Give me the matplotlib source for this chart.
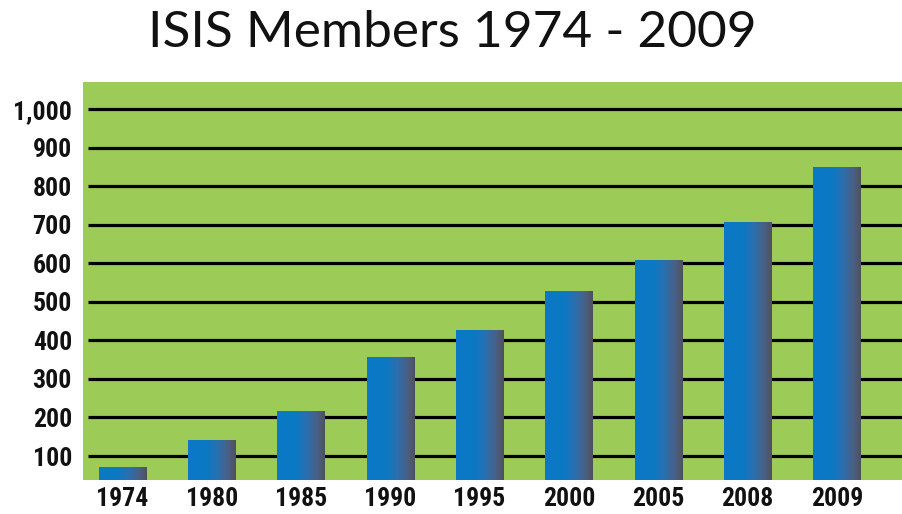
import numpy as np
import matplotlib
matplotlib.use("Agg")
import matplotlib.pyplot as plt
from matplotlib.colors import LinearSegmentedColormap
from matplotlib import font_manager

years = ["1974", "1980", "1985", "1990", "1995", "2000", "2005", "2008", "2009"]
members = [70, 140, 215, 355, 425, 527, 607, 707, 850]
yticks = [100, 200, 300, 400, 500, 600, 700, 800, 900, 1000]
ytick_labels = ["100", "200", "300", "400", "500", "600", "700", "800", "900", "1,000"]
title = "ISIS Members 1974 - 2009"

names = {f.name for f in font_manager.fontManager.ttflist}
cond = None
for cand in ["Liberation Sans Narrow", "DejaVu Sans Condensed", "Roboto Condensed", "Open Sans Condensed"]:
    if cand in names:
        cond = cand
        break

fig = plt.figure(figsize=(9.03, 5.14), dpi=100)
ax = fig.add_axes([83/903, 1 - 480/514, 1 - 83/903, (480 - 82)/514])
ax.set_facecolor("#9dcb58")

x = np.arange(len(years))
ymin, ymax = 37.7, 1071

ax.hlines(yticks, -0.38, 8.74, colors="black", linewidth=2.3, zorder=1)

cmap = LinearSegmentedColormap.from_list(
    "bargrad", [(0.0, "#0a79c6"), (0.4, "#0c78c3"), (0.62, "#2a70b0"),
                (0.85, "#4b5f84"), (1.0, "#50505c")])
grad = np.linspace(0, 1, 256).reshape(1, -1)

bars = ax.bar(x, members, width=0.53, bottom=0, color="none", edgecolor="none", zorder=2)
for b in bars:
    x0, y0 = b.get_x(), b.get_y()
    w, h = b.get_width(), b.get_height()
    ax.imshow(grad, cmap=cmap, aspect="auto",
              extent=[x0, x0 + w, max(y0, ymin), y0 + h],
              zorder=3, interpolation="bilinear")

ax.set_xlim(-0.44, 8.74)
ax.set_ylim(ymin, ymax)

for s in ax.spines.values():
    s.set_visible(False)

if cond is not None:
    tickfont = dict(family=[cond, "DejaVu Sans"], weight="bold", size=18.5)
else:
    tickfont = dict(family=["DejaVu Sans"], stretch="condensed", weight="bold", size=17)
ax.set_yticks(yticks)
ax.set_yticklabels(ytick_labels, **tickfont)
ax.set_xticks(x)
ax.set_xticklabels(years, **tickfont)
ax.tick_params(length=0, pad=8, colors="#111111")
ax.tick_params(axis="x", pad=5)

fig.text(0.5 * (150 + 755) / 903, 1 - 33/514, title, ha="center", va="center",
         fontsize=37, family=["Lato", "DejaVu Sans"], color="#111111")

fig.savefig("out.png", dpi=100, facecolor="white")
